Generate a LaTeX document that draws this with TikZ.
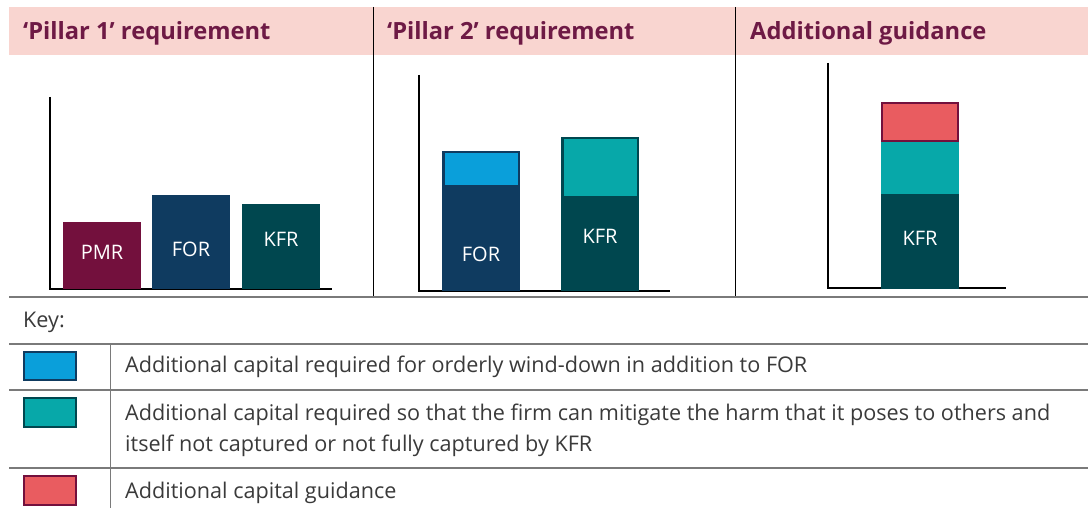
\documentclass[tikz,border=0pt]{standalone}
\usepackage{fontspec}
\setmainfont{Open Sans}
\definecolor{hdrbg}{HTML}{F9D5D0}
\definecolor{hdrtx}{HTML}{6E1A45}
\definecolor{pmrc}{HTML}{73103D}
\definecolor{forc}{HTML}{0F3B60}
\definecolor{kfrc}{HTML}{00474F}
\definecolor{lblue}{HTML}{0A9FDA}
\definecolor{lteal}{HTML}{07A8A9}
\definecolor{lred}{HTML}{E95C60}
\definecolor{gline}{HTML}{7A7A7A}
\definecolor{ktext}{HTML}{3A3A3A}
\begin{document}
\begin{tikzpicture}[x=1pt,y=-1pt,
  hdr/.style={anchor=west,text=hdrtx,font=\fontsize{23.7}{26}\selectfont\bfseries,inner sep=0},
  blbl/.style={text=white,font=\fontsize{20}{22}\selectfont,inner sep=0},
  keyt/.style={anchor=west,text=ktext,font=\fontsize{21.6}{31}\selectfont,inner sep=0,align=left},
  axis/.style={draw=black,line width=1.2pt},
  hline/.style={draw=gline,line width=1.6pt},
  vline/.style={draw=black,line width=1pt},
  sw/.style={line width=1.6pt}]
\useasboundingbox (0,0) rectangle (1088,508);
% header band
\fill[hdrbg] (9,7) rectangle (1088,55);
\node[hdr] (h1) at (23,33) {‘Pillar 1’ requirement};
\node[hdr] (h2) at (387,33) {‘Pillar 2’ requirement};
\node[hdr] (h3) at (750,33) {Additional guidance};
% dividers
\draw[vline] (373,7) -- (373,297);
\draw[vline] (735,7) -- (735,297);
\draw[hline] (9,297) -- (1088,297);
% panel 1
\draw[axis] (50,97) -- (50,289) -- (332,289);
\fill[pmrc] (63,222) rectangle (141,289);
\fill[forc] (152,195) rectangle (230,289);
\fill[kfrc] (242,204) rectangle (320,289);
\node[blbl] (pmr) at (102,252) {PMR};
\node[blbl] (for1) at (191,249) {FOR};
\node[blbl] (kfr1) at (281,239) {KFR};
% panel 2
\draw[axis] (419,75) -- (419,291) -- (670,291);
\fill[forc] (442,151) rectangle (520,291);
\draw[forc,fill=lblue,line width=2.5pt] (443.25,152.25) rectangle (518.75,186.5);
\fill[kfrc] (561,137) rectangle (639,291);
\draw[kfrc,fill=lteal,line width=2.5pt] (562.25,138.25) rectangle (637.75,197);
\node[blbl] (for2) at (481,254) {FOR};
\node[blbl] (kfr2) at (600,236) {KFR};
% panel 3
\draw[axis] (828,63) -- (828,288) -- (1006,288);
\fill[kfrc] (881,194) rectangle (959,289);
\fill[lteal] (881,141) rectangle (959,194);
\draw[pmrc,fill=lred,line width=2pt] (882,103) rectangle (958,141);
\node[blbl] (kfr3) at (920,238) {KFR};
% key
\node[keyt] (key) at (23,322) {Key:};
\draw[hline] (9,344) -- (1088,344);
\draw[hline,line width=1.2pt] (9,390) -- (1088,390);
\draw[hline] (9,468) -- (1088,468);
\draw[vline,draw=gline] (110,344) -- (110,508);
\draw[sw,draw=forc,fill=lblue] (24,352) rectangle (76,380);
\draw[sw,draw=kfrc,fill=lteal] (24,398) rectangle (76,427);
\draw[sw,draw=pmrc,fill=lred] (24,476) rectangle (76,505);
\node[keyt] (k1) at (125,367) {Additional capital required for orderly wind-down in addition to FOR};
\node[keyt,anchor=north west] (k2) at (125,404) {Additional capital required so that the firm can mitigate the harm that it poses to others and\\itself not captured or not fully captured by KFR};
\node[keyt] (k3) at (125,493) {Additional capital guidance};
\end{tikzpicture}
\end{document}
